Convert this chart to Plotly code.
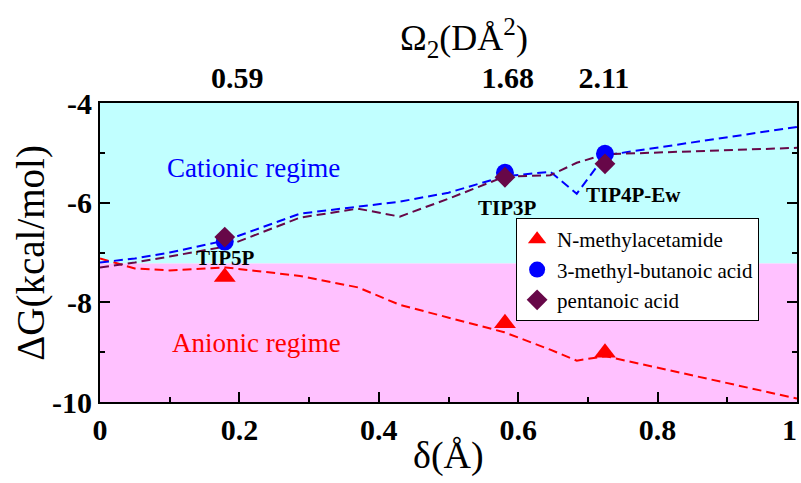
import plotly.graph_objects as go

# ---------------- data ----------------
delta_grid = [0, 0.05, 0.1, 0.18, 0.287, 0.37, 0.43, 0.5, 0.58, 0.646, 0.684, 0.725, 0.85, 1.0]
line_nma = [-7.12, -7.32, -7.36, -7.3, -7.47, -7.7, -8.05, -8.3, -8.6, -8.95, -9.17, -9.08, -9.47, -9.93]
line_mba = [-7.2, -7.12, -7.0, -6.76, -6.22, -6.08, -5.98, -5.8, -5.47, -5.38, -5.82, -5.05, -4.79, -4.48]
line_pent = [-7.3, -7.2, -7.08, -6.88, -6.3, -6.12, -6.28, -5.92, -5.48, -5.45, -5.2, -5.03, -4.97, -4.9]

models = ["TIP5P", "TIP3P", "TIP4P-Ew"]
delta_models = [0.179, 0.581, 0.7245]
pts_nma = [-7.49, -8.42, -9.01]
pts_mba = [-6.78, -5.40, -5.02]
pts_pent = [-6.69, -5.49, -5.22]

x_tick_vals = [0, 0.2, 0.4, 0.6, 0.8, 1.0]
x_tick_text = ["0", "0.2", "0.4", "0.6", "0.8", "1&nbsp;&nbsp;"]
y_tick_vals = [-10, -8, -6, -4]
y_tick_text = ["-10", "-8", "-6", "-4"]
omega_tick_pos = [0.197, 0.585, 0.723]
omega_tick_text = ["0.59", "1.68", "2.11"]

regime_boundary = -7.22
y_range = [-10, -4]
x_range = [0, 1]

RED = "#FF0000"
BLUE = "#0000FF"
MAROON = "#670748"
CYAN = "#C1FFFF"
PINK = "#FFC1FF"
SERIF = "Liberation Serif"

fig = go.Figure()

# regimes
fig.add_shape(type="rect", xref="paper", yref="y", x0=0, x1=1, y0=regime_boundary, y1=y_range[1],
              fillcolor=CYAN, line_width=0, layer="below")
fig.add_shape(type="rect", xref="paper", yref="y", x0=0, x1=1, y0=y_range[0], y1=regime_boundary,
              fillcolor=PINK, line_width=0, layer="below")

dash = "9px,5px"
fig.add_trace(go.Scatter(x=delta_grid, y=line_nma, mode="lines", line=dict(color=RED, width=2, dash=dash),
                         showlegend=False, hoverinfo="skip"))
fig.add_trace(go.Scatter(x=delta_grid, y=line_mba, mode="lines", line=dict(color=BLUE, width=2, dash=dash),
                         showlegend=False, hoverinfo="skip"))
fig.add_trace(go.Scatter(x=delta_grid, y=line_pent, mode="lines", line=dict(color=MAROON, width=2, dash=dash),
                         showlegend=False, hoverinfo="skip"))

fig.add_trace(go.Scatter(x=delta_models, y=pts_nma, mode="markers", name="N-methylacetamide",
                         marker=dict(symbol="triangle-up", size=19, color=RED)))
fig.add_trace(go.Scatter(x=delta_models, y=pts_mba, mode="markers", name="3-methyl-butanoic acid",
                         marker=dict(symbol="circle", size=18, color=BLUE)))
fig.add_trace(go.Scatter(x=delta_models, y=pts_pent, mode="markers", name="pentanoic acid",
                         marker=dict(symbol="diamond", size=16, color=MAROON)))

# invisible trace to carry the top axis
fig.add_trace(go.Scatter(x=omega_tick_pos, y=[-4.5] * len(omega_tick_pos), xaxis="x2", mode="markers",
                         marker=dict(opacity=0), showlegend=False, hoverinfo="skip"))

# labels
label_y = [-7.11, -6.11, -5.85]
label_x = [0.18, 0.585, 0.765]
for name, lx, ly in zip(models, label_x, label_y):
    fig.add_annotation(x=lx, y=ly, text="<b>%s</b>" % name, showarrow=False,
                       font=dict(family=SERIF, size=21, color="black"))
fig.add_annotation(x=0.22, y=-5.3, text="Cationic regime", showarrow=False,
                   font=dict(family=SERIF, size=27, color=BLUE))
fig.add_annotation(x=0.224, y=-8.82, text="Anionic regime", showarrow=False,
                   font=dict(family=SERIF, size=27, color=RED))

# axis titles
fig.add_annotation(xref="paper", yref="paper", x=0.5, y=-0.18, yanchor="middle", text="δ(Å)",
                   showarrow=False, font=dict(family=SERIF, size=38, color="black"))
fig.add_annotation(xref="paper", yref="paper", x=-0.1, y=0.5, xanchor="center", yanchor="middle",
                   text="ΔG(kcal/mol)", textangle=-90, showarrow=False,
                   font=dict(family=SERIF, size=39, color="black"))
fig.add_annotation(xref="paper", yref="paper", x=0.522, y=1.217, yanchor="middle",
                   text="Ω<sub>2</sub>(DÅ<sup>2</sup>)", showarrow=False,
                   font=dict(family=SERIF, size=36, color="black"))

tickfont = dict(family=SERIF, size=30, color="black", weight="bold")

fig.update_layout(
    width=801, height=483,
    margin=dict(l=100, r=4, t=103, b=81, autoexpand=False),
    plot_bgcolor="white", paper_bgcolor="white",
    showlegend=True,
    legend=dict(x=0.597, y=0.615, xanchor="left", yanchor="top",
                bgcolor="white", bordercolor="black", borderwidth=1,
                font=dict(family=SERIF, size=21, color="black"),
                itemsizing="trace", tracegroupgap=0, itemwidth=30),
    xaxis=dict(range=x_range, showgrid=False, zeroline=False, showline=True, linecolor="black", linewidth=2,
               mirror=True, ticks="inside", ticklen=10, tickwidth=1.5, tickcolor="black",
               tickvals=x_tick_vals, ticktext=x_tick_text, ticklabeloverflow="allow",
               minor=dict(ticks="inside", ticklen=5, tickvals=[0.1, 0.3, 0.5, 0.7, 0.9], tickcolor="black"),
               tickfont=tickfont, automargin=False),
    xaxis2=dict(range=x_range, overlaying="x", side="top", showgrid=False, zeroline=False, showline=False,
                tickvals=omega_tick_pos, ticktext=omega_tick_text, ticks="", tickfont=tickfont,
                ticklabelstandoff=8, automargin=False),
    yaxis=dict(range=y_range, showgrid=False, zeroline=False, showline=True, linecolor="black", linewidth=2,
               mirror="ticks", ticks="inside", ticklen=10, tickwidth=1.5, tickcolor="black",
               tickvals=y_tick_vals, ticktext=y_tick_text,
               minor=dict(ticks="inside", ticklen=5, tickvals=[-9, -7, -5], tickcolor="black"),
               tickfont=tickfont, automargin=False),
)

fig.write_html("out.html", config={"displayModeBar": False},
               post_script="document.body.style.margin='0';document.body.style.overflow='hidden';")
